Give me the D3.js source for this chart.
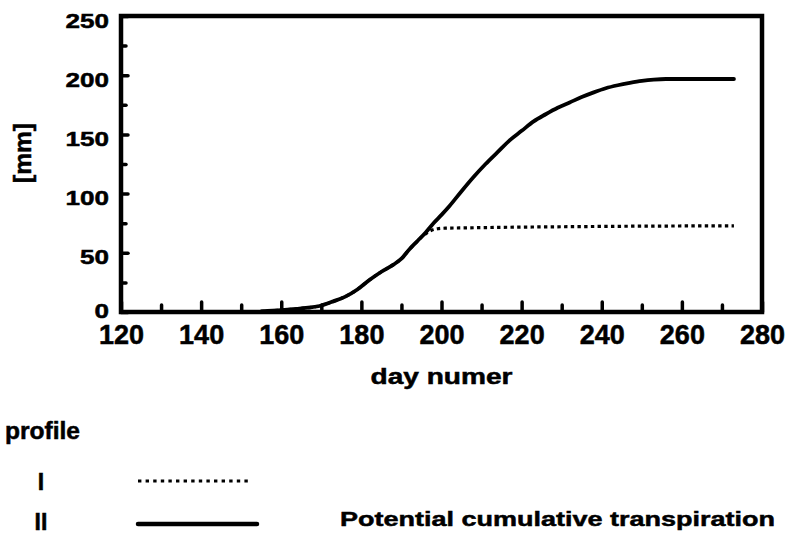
<!DOCTYPE html>
<html>
<head>
<meta charset="utf-8">
<script src="https://cdn.jsdelivr.net/npm/d3@7"></script>
<style>
  body { margin: 0; background: #fff; }
  text { font-family: "Liberation Sans", Arial, Helvetica, sans-serif; font-weight: bold; fill: #000; stroke: #000; stroke-width: 0.5px; }
</style>
</head>
<body>
<div id="chart"></div>
<script>
// day of year
var days = [155, 160, 165, 170, 173, 176, 179, 182, 185, 188, 190, 192, 194, 196, 198, 200, 202, 205, 208, 211,
            214, 217, 220, 223, 226, 229, 232, 235, 238, 241, 244, 247, 250, 253, 256, 260, 265, 273]
// profile II = potential cumulative transpiration [mm]
var profileII = [0.5, 1.5, 3, 5.5, 9, 13, 19, 27, 34, 40, 45, 53, 60, 67, 75, 82, 89.5, 102, 114, 125,
                 135, 145, 153, 161, 167, 172.5, 177, 181.5, 185.5, 189, 191.5, 193.5, 195.2, 196.3, 196.8, 196.8, 196.8, 196.8]
// profile I
var daysI = [155, 160, 165, 170, 173, 176, 179, 182, 185, 188, 190, 192, 194, 196, 197.5, 199, 201, 205, 215, 230, 250, 273]
var profileI = [0.5, 1.5, 3, 5.5, 9, 13, 19, 27, 34, 40, 45, 53, 60, 66, 69, 70.3, 70.8, 71, 71.5, 72, 72.5, 72.8]

var xMajor = [120, 140, 160, 180, 200, 220, 240, 260, 280]
var xMinor = [130, 150, 170, 190, 210, 230, 250, 270]
var yMajor = [0, 50, 100, 150, 200, 250]
var yMinor = [25, 75, 125, 175, 225]

var legendNames = ["I", "II"]
var legendText = ["", "Potential cumulative transpiration"]

var W = 787, H = 535
var margin = {top: 16, right: 25, bottom: 223, left: 121},
    width = W - margin.left - margin.right,
    height = H - margin.top - margin.bottom

var svg = d3.select("#chart").append("svg")
    .attr("width", W)
    .attr("height", H)

var g = svg.append("g")
    .attr("transform", "translate(" + margin.left + "," + margin.top + ")")

var x = d3.scaleLinear().domain([120, 280]).range([0, width])
var y = d3.scaleLinear().domain([0, 250]).range([height, 0])

// x axis, ticks pointing inward
var xAx = g.append("g")
    .attr("transform", "translate(0," + height + ")")
    .call(d3.axisBottom(x).tickValues(xMajor).tickSize(-10).tickPadding(13).tickFormat(d3.format("d")))
xAx.select(".domain").remove()
xAx.selectAll("line").attr("stroke", "#000").attr("stroke-width", 3.5).attr("stroke-linecap", "round")
xAx.selectAll("text").style("font-size", "27px")

var xAx2 = g.append("g")
    .attr("transform", "translate(0," + height + ")")
    .call(d3.axisBottom(x).tickValues(xMinor).tickSize(-7).tickFormat(""))
xAx2.select(".domain").remove()
xAx2.selectAll("line").attr("stroke", "#000").attr("stroke-width", 3.5).attr("stroke-linecap", "round")

// y axis
var yAx = g.append("g")
    .call(d3.axisLeft(y).tickValues(yMajor).tickSize(-7).tickPadding(12))
yAx.select(".domain").remove()
yAx.selectAll("line").attr("stroke", "#000").attr("stroke-width", 3.5).attr("stroke-linecap", "round")
yAx.selectAll("text")
    .style("font-size", "21px")
    .attr("dy", function (d) { return d == 0 ? "5px" : "11px" })
    .attr("textLength", function (d) { return String(d).length * 14.5 })
    .attr("lengthAdjust", "spacingAndGlyphs")

var yAx2 = g.append("g")
    .call(d3.axisLeft(y).tickValues(yMinor).tickSize(-5).tickFormat(""))
yAx2.select(".domain").remove()
yAx2.selectAll("line").attr("stroke", "#000").attr("stroke-width", 3.5).attr("stroke-linecap", "round")

// frame
g.append("rect")
    .attr("x", 0).attr("y", 0)
    .attr("width", width).attr("height", height)
    .attr("fill", "none")
    .attr("stroke", "#000")
    .attr("stroke-width", 4.5)

var line = d3.line()
    .x(function (d) { return x(d[0]) })
    .y(function (d) { return y(d[1]) })
    .curve(d3.curveMonotoneX)

g.append("path")
    .datum(daysI.map(function (d, i) { return [d, profileI[i]] }))
    .attr("d", line)
    .attr("fill", "none")
    .attr("stroke", "#000")
    .attr("stroke-width", 3.2)
    .attr("stroke-dasharray", "3.4 3.3")

g.append("path")
    .datum(days.map(function (d, i) { return [d, profileII[i]] }))
    .attr("d", line)
    .attr("fill", "none")
    .attr("stroke", "#000")
    .attr("stroke-width", 3.8)
    .attr("stroke-linecap", "round")

// axis titles
svg.append("text")
    .attr("transform", "translate(31,153) rotate(-90)")
    .attr("text-anchor", "middle")
    .style("font-size", "24px")
    .attr("textLength", 60)
    .attr("lengthAdjust", "spacingAndGlyphs")
    .text("[mm]")

svg.append("text")
    .attr("x", margin.left + width / 2)
    .attr("y", 384)
    .attr("text-anchor", "middle")
    .style("font-size", "22px")
    .attr("textLength", 142)
    .attr("lengthAdjust", "spacingAndGlyphs")
    .text("day numer")

// legend
svg.append("text")
    .attr("x", 5).attr("y", 439)
    .style("font-size", "23px")
    .attr("textLength", 75)
    .attr("lengthAdjust", "spacingAndGlyphs")
    .text("profile")

var legY = [481, 524]
var leg = svg.selectAll(".leg")
    .data(legendNames)
    .enter().append("g")
    .attr("class", "leg")
    .attr("transform", function (d, i) { return "translate(0," + legY[i] + ")" })

leg.append("text")
    .attr("x", 41).attr("y", function (d, i) { return i == 0 ? 9 : 6 })
    .attr("text-anchor", "middle")
    .style("font-size", "23px")
    .text(function (d) { return d })

leg.append("line")
    .attr("x1", 138).attr("x2", function (d, i) { return i == 0 ? 252 : 257 })
    .attr("stroke", "#000")
    .attr("stroke-width", function (d, i) { return i == 0 ? 3 : 4.5 })
    .attr("stroke-dasharray", function (d, i) { return i == 0 ? "3.4 4.2" : null })
    .attr("stroke-linecap", function (d, i) { return i == 0 ? "butt" : "round" })

leg.append("text")
    .attr("x", 340).attr("y", 2)
    .style("font-size", "21px")
    .attr("textLength", function (d, i) { return legendText[i] ? 435 : null })
    .attr("lengthAdjust", "spacingAndGlyphs")
    .text(function (d, i) { return legendText[i] })
</script>
</body>
</html>
